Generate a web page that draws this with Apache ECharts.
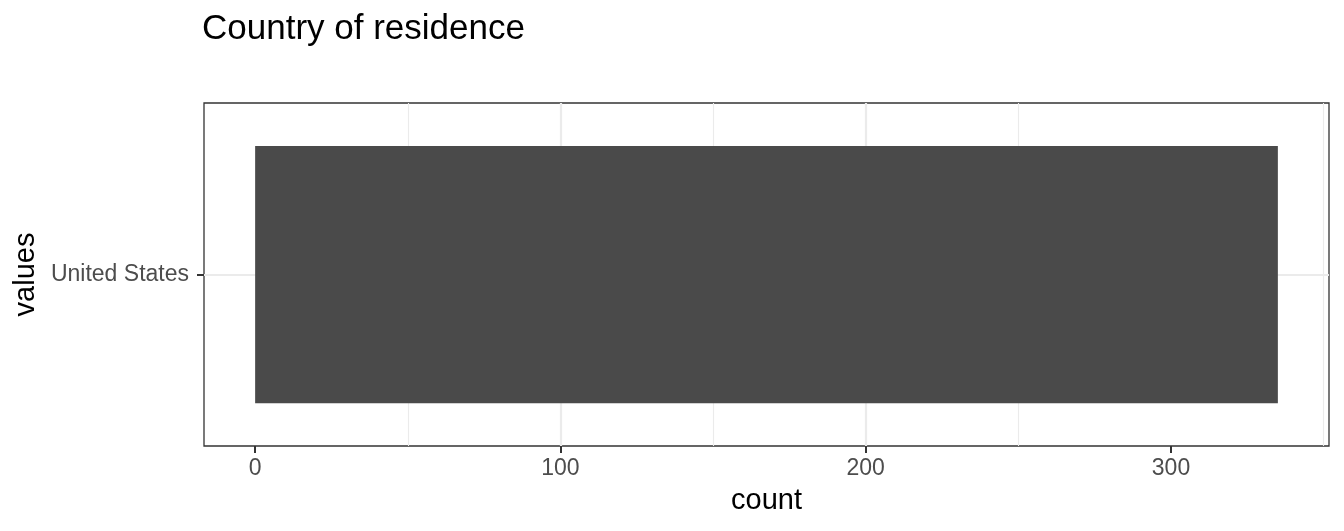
<!DOCTYPE html>
<html>
<head>
<meta charset="utf-8">
<style>
  html, body { margin: 0; padding: 0; background: #fff; }
  #chart { width: 1344px; height: 531px; }
</style>
<script src="https://cdn.jsdelivr.net/npm/echarts@6/dist/echarts.min.js"></script>
</head>
<body>
<div id="chart"></div>
<script>
// data
const categories = ['United States']
const counts = [335]
const majorTicks = [0, 100, 200, 300]

// ggplot pads a continuous axis by 5% on each side
const pad = (Math.max(...counts) - 0) * 0.05
const xMin = 0 - pad
const xMax = Math.max(...counts) + pad

const font = 'Liberation Sans, Arial, Helvetica, sans-serif'
const tickGrey = '#4d4d4d'
const dark = '#333333'
const gridGrey = '#ebebeb'

const chart = echarts.init(document.getElementById('chart'))

chart.setOption({
  animation: false,
  backgroundColor: '#fff',
  textStyle: { fontFamily: font },
  title: {
    text: 'Country of residence',
    left: 202,
    top: 12,
    padding: 0,
    textStyle: { fontFamily: font, fontSize: 35, fontWeight: 'normal', color: '#000' }
  },
  grid: {
    left: 204,
    right: 15,
    top: 103,
    bottom: 85,
    show: true,
    backgroundColor: '#fff',
    borderColor: dark,
    borderWidth: 1.3
  },
  xAxis: {
    type: 'value',
    min: xMin,
    max: xMax,
    splitNumber: 5,
    name: 'count',
    nameLocation: 'middle',
    nameGap: 40,
    nameTextStyle: { fontSize: 29, color: '#000', fontFamily: font },
    axisLine: { show: false, onZero: false },
    axisTick: {
      show: true,
      length: 7,
      customValues: majorTicks,
      lineStyle: { color: dark, width: 2 }
    },
    axisLabel: {
      customValues: majorTicks,
      margin: 11,
      fontSize: 23,
      color: tickGrey,
      fontFamily: font
    },
    splitLine: {
      show: true,
      showMinLine: false,
      showMaxLine: false,
      lineStyle: { color: gridGrey, width: 2.2 }
    },
    minorTick: { show: false, splitNumber: 2 },
    minorSplitLine: {
      show: true,
      lineStyle: { color: gridGrey, width: 1.1 }
    }
  },
  yAxis: {
    type: 'category',
    data: categories,
    name: 'values',
    nameLocation: 'middle',
    nameGap: 162,
    nameTextStyle: { fontSize: 29, color: '#000', fontFamily: font },
    axisLine: { show: false, onZero: false },
    axisTick: {
      show: true,
      alignWithLabel: true,
      length: 7,
      lineStyle: { color: dark, width: 2 }
    },
    axisLabel: {
      margin: 15,
      fontSize: 23,
      color: tickGrey,
      fontFamily: font
    },
    splitLine: { show: false }
  },
  series: [
    {
      // carries the horizontal major grid line at each category, kept under the bar
      type: 'line',
      data: [],
      z: 1,
      silent: true,
      showSymbol: false,
      markLine: {
        z: 1,
        silent: true,
        symbol: ['none', 'none'],
        label: { show: false },
        lineStyle: { color: gridGrey, width: 2.2, type: 'solid' },
        emphasis: { disabled: true },
        data: categories.map(c => ({ yAxis: c }))
      }
    },
    {
      type: 'bar',
      data: counts,
      z: 3,
      barWidth: '75%',
      itemStyle: { color: '#4a4a4a' },
      silent: true
    }
  ]
})
</script>
</body>
</html>
